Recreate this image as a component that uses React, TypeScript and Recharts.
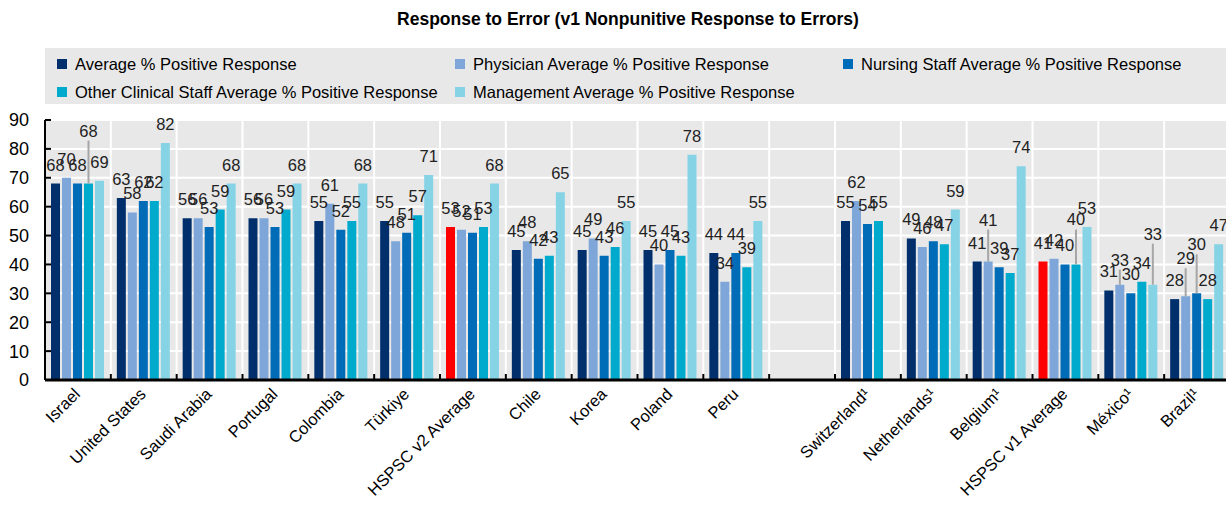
import React from 'react';
import { BarChart, Bar, XAxis, YAxis, CartesianGrid, LabelList, Cell } from 'recharts';

const categories = [
  'Israel', 'United States', 'Saudi Arabia', 'Portugal', 'Colombia', 'Türkiye', 'HSPSC v2 Average',
  'Chile', 'Korea', 'Poland', 'Peru', ' ', 'Switzerland¹', 'Netherlands¹', 'Belgium¹',
  'HSPSC v1 Average', 'México¹', 'Brazil¹',
];

const seriesNames = [
  'Average % Positive Response',
  'Physician Average % Positive Response',
  'Nursing Staff Average % Positive Response',
  'Other Clinical Staff Average % Positive Response',
  'Management Average % Positive Response',
];

const avgPositive = [68, 63, 56, 56, 55, 55, 53, 45, 45, 45, 44, null, 55, 49, 41, 41, 31, 28];
const physicianPositive = [70, 58, 56, 56, 61, 48, 52, 48, 49, 40, 34, null, 62, 46, 41, 42, 33, 29];
const nursingPositive = [68, 62, 53, 53, 52, 51, 51, 42, 43, 45, 44, null, 54, 48, 39, 40, 30, 30];
const otherClinicalPositive = [68, 62, 59, 59, 55, 57, 53, 43, 46, 43, 39, null, 55, 47, 37, 40, 34, 28];
const managementPositive = [69, 82, 68, 68, 68, 71, 68, 65, 55, 78, 55, null, null, 59, 74, 53, 33, 47];

const yTicks = [0, 10, 20, 30, 40, 50, 60, 70, 80, 90];

const seriesColors = ['#002f6c', '#7fa6d8', '#006bb6', '#00aacc', '#86d3e6'];
const highlightColor = '#ff0000';
const highlightCategories = ['HSPSC v2 Average', 'HSPSC v1 Average'];

// labels that sit higher with a leader line, key = category|series index
const leaderLifts: Record<string, number> = {
  'Israel|3': 34,
  'Belgium¹|1': 23,
  'HSPSC v1 Average|3': 26,
  'México¹|4': 32,
  'México¹|1': 6,
  'Brazil¹|1': 19,
  'Brazil¹|2': 30,
};

const allSeries = [avgPositive, physicianPositive, nursingPositive, otherClinicalPositive, managementPositive];
const data = categories.map((name, i) => {
  const row: Record<string, any> = { name };
  allSeries.forEach((s, si) => { row[`s${si}`] = s[i]; });
  return row;
});

const FONT = '"Liberation Sans", Arial, sans-serif';
const CHART_W = 1230;
const CHART_H = 505;
const PLOT_LEFT = 45;
const PLOT_TOP = 120;
const PLOT_BOTTOM = 380;
const BAND = (CHART_W - PLOT_LEFT) / categories.length;

const XTick = (props: any) => {
  const { x, y, payload, index } = props;
  const left = x - BAND / 2;
  const tx = x - 5;
  const ty = y - 1;
  return (
    <g>
      <line x1={left} x2={left} y1={PLOT_BOTTOM} y2={PLOT_BOTTOM - 6} stroke="#000" strokeWidth={2} />
      {index === categories.length - 1 && (
        <line x1={x + BAND / 2} x2={x + BAND / 2} y1={PLOT_BOTTOM} y2={PLOT_BOTTOM - 6} stroke="#000" strokeWidth={2} />
      )}
      <text x={tx} y={ty} dy="0.7em" transform={`rotate(-45 ${tx} ${ty})`} textAnchor="end"
        fontSize={16.5} fontFamily={FONT} fill="#000">
        {payload.value}
      </text>
    </g>
  );
};

const YTick = (props: any) => {
  const { y, payload } = props;
  return (
    <g>
      <line x1={PLOT_LEFT} x2={PLOT_LEFT + 6} y1={y} y2={y} stroke="#000" strokeWidth={2} />
      <text x={29} y={y} dy="0.36em" textAnchor="end" fontSize={18} fontFamily={FONT} fill="#000">
        {payload.value}
      </text>
    </g>
  );
};

const makeLabel = (si: number) => (p: any) => {
  const { x, y, width, value } = p;
  if (value == null) return null;
  const cx = Number(x) + Number(width) / 2;
  const ci = Math.floor((cx - PLOT_LEFT) / BAND);
  const lift = leaderLifts[`${categories[ci]}|${si}`] ?? 0;
  const base = Number(y) - 13 - lift;
  return (
    <g>
      {lift > 0 && <line x1={cx} x2={cx} y1={base + 4} y2={y} stroke="#a6a6a6" strokeWidth={2} />}
      <text x={cx} y={base} textAnchor="middle" fontSize={16.5} fontFamily={FONT} fill="#222">
        {value}
      </text>
    </g>
  );
};

const LegendBox = () => (
  <div style={{
    position: 'absolute', left: 45, top: 48, width: 1181, height: 56, background: '#e8e8e8',
    fontFamily: FONT, fontSize: 16.5, color: '#000',
  }}>
    {seriesNames.map((n, i) => (
      <div key={n} style={{
        position: 'absolute', left: [12, 410, 798][i % 3], top: i < 3 ? 6 : 34,
        display: 'flex', alignItems: 'center', whiteSpace: 'nowrap', lineHeight: '20px',
      }}>
        <span style={{ width: 10, height: 10, background: seriesColors[i], marginRight: 8, display: 'inline-block' }} />
        {n}
      </div>
    ))}
  </div>
);

export default function App() {
  return (
    <div style={{ position: 'relative', width: 1226, height: 505, overflow: 'hidden', background: '#fff' }}>
      <style>{'body{margin:0}'}</style>
      <div style={{
        position: 'absolute', left: 0, top: 9, width: 1256, textAlign: 'center',
        fontFamily: FONT, fontWeight: 'bold', fontSize: 17.5, color: '#000',
      }}>
        Response to Error (v1 Nonpunitive Response to Errors)
      </div>
      <LegendBox />
      <BarChart
        width={CHART_W}
        height={CHART_H}
        data={data}
        margin={{ top: PLOT_TOP, right: 0, left: 0, bottom: 0 }}
        barCategoryGap={6}
        barGap={2}
      >
        <CartesianGrid
          fill="#e8e8e8"
          stroke="#ffffff"
          strokeWidth={2}
          verticalCoordinatesGenerator={({ offset }: any) =>
            categories.map((_, i) => offset.left + (i + 1) * offset.width / categories.length)}
        />
        <XAxis
          dataKey="name"
          interval={0}
          height={CHART_H - PLOT_BOTTOM}
          tickLine={false}
          axisLine={{ stroke: '#000', strokeWidth: 3 }}
          tick={<XTick />}
        />
        <YAxis
          width={PLOT_LEFT}
          domain={[0, 90]}
          ticks={yTicks}
          interval={0}
          tickLine={false}
          axisLine={{ stroke: '#000', strokeWidth: 2 }}
          tick={<YTick />}
        />
        {seriesNames.map((n, si) => (
          <Bar key={n} dataKey={`s${si}`} name={n} fill={seriesColors[si]} isAnimationActive={false}>
            {si === 0 && data.map((d) => (
              <Cell key={d.name} fill={highlightCategories.includes(d.name) ? highlightColor : seriesColors[0]} />
            ))}
            <LabelList dataKey={`s${si}`} content={makeLabel(si)} />
          </Bar>
        ))}
      </BarChart>
    </div>
  );
}
